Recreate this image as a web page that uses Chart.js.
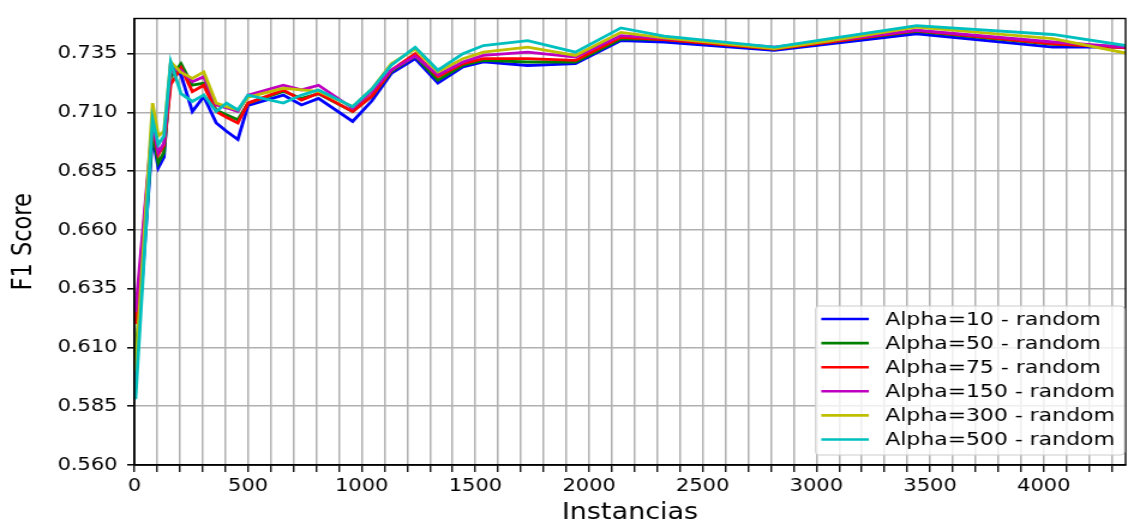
<!DOCTYPE html>
<html>
<head>
<meta charset="utf-8">
<script src="https://cdn.jsdelivr.net/npm/chart.js@4"></script>
<style>
  html, body { margin: 0; padding: 0; background: #fff; overflow: hidden; }
  /* the figure is drawn narrow and widened, like the saved plot image */
  #wrap { width: 940px; height: 524px; transform: scaleX(1.2); transform-origin: 0 0; }
</style>
</head>
<body>
<div id="wrap"><canvas id="chart"></canvas></div>
<script>
const instancias = [5, 80, 105, 130, 160, 205, 255, 305, 360, 405, 455, 500, 655, 735, 810, 960, 1045, 1130, 1235, 1335, 1445, 1535, 1730, 1940, 2140, 2330, 2815, 3060, 3440, 4040, 4360];

const alpha10 = [0.600, 0.700, 0.6865, 0.691, 0.7308, 0.726, 0.7104, 0.7168, 0.7055, 0.702, 0.6985, 0.713, 0.7174, 0.7132, 0.716, 0.7062, 0.715, 0.7266, 0.7329, 0.7225, 0.7294, 0.7315, 0.7300, 0.7308, 0.7406, 0.7400, 0.7364, 0.7392, 0.7435, 0.7378, 0.7378];
const alpha50 = [0.605, 0.702, 0.6886, 0.693, 0.725, 0.7308, 0.7216, 0.7225, 0.711, 0.709, 0.7069, 0.714, 0.719, 0.716, 0.718, 0.7104, 0.717, 0.7275, 0.734, 0.7238, 0.7301, 0.7322, 0.7315, 0.7315, 0.7413, 0.741, 0.737, 0.740, 0.7445, 0.739, 0.738];
const alpha75 = [0.620, 0.705, 0.6921, 0.696, 0.722, 0.729, 0.7189, 0.7216, 0.7104, 0.708, 0.7055, 0.714, 0.7195, 0.7153, 0.7182, 0.7104, 0.717, 0.728, 0.735, 0.7252, 0.7308, 0.7329, 0.7329, 0.7322, 0.742, 0.741, 0.737, 0.740, 0.7448, 0.7392, 0.7375];
const alpha150 = [0.625, 0.706, 0.693, 0.697, 0.728, 0.728, 0.7231, 0.7252, 0.7132, 0.712, 0.7104, 0.7174, 0.7216, 0.7196, 0.7216, 0.7118, 0.719, 0.728, 0.734, 0.726, 0.7315, 0.7343, 0.7357, 0.7336, 0.7427, 0.7415, 0.7378, 0.7405, 0.745, 0.740, 0.7378];
const alpha300 = [0.600, 0.714, 0.700, 0.702, 0.7315, 0.727, 0.7245, 0.7273, 0.714, 0.7125, 0.7111, 0.7165, 0.7203, 0.7196, 0.719, 0.7125, 0.720, 0.7308, 0.737, 0.7273, 0.7329, 0.7357, 0.7378, 0.7343, 0.7441, 0.7418, 0.7372, 0.7405, 0.7463, 0.7414, 0.7353];
const alpha500 = [0.588, 0.707, 0.6964, 0.700, 0.7315, 0.718, 0.7147, 0.7175, 0.7104, 0.714, 0.7111, 0.7174, 0.714, 0.7174, 0.7196, 0.7125, 0.720, 0.7301, 0.7378, 0.728, 0.735, 0.7385, 0.7406, 0.7357, 0.746, 0.7425, 0.7378, 0.7414, 0.747, 0.7432, 0.7385];

const seriesLabels = ["Alpha=10 - random", "Alpha=50 - random", "Alpha=75 - random", "Alpha=150 - random", "Alpha=300 - random", "Alpha=500 - random"];
const seriesValues = [alpha10, alpha50, alpha75, alpha150, alpha300, alpha500];
const seriesColors = ["#0000ff", "#008000", "#ff0000", "#bf00bf", "#bfbf00", "#00bfbf"];

const yTicks = [0.560, 0.585, 0.610, 0.635, 0.660, 0.685, 0.710, 0.735];

Chart.defaults.font.family = "'DejaVu Sans', sans-serif";
Chart.defaults.color = "#000";

// black box round the plot area
const frame = {
  id: "frame",
  afterDatasetsDraw(chart) {
    const { ctx, chartArea: a } = chart;
    ctx.save();
    ctx.strokeStyle = "#000";
    ctx.lineWidth = 1.4;
    ctx.strokeRect(a.left, a.top, a.right - a.left, a.bottom - a.top);
    ctx.restore();
  },
};

// legend in the lower right corner of the plot
const cornerLegend = {
  id: "cornerLegend",
  afterDraw(chart) {
    const { ctx, chartArea: a } = chart;
    const sets = chart.data.datasets;
    ctx.save();
    ctx.font = "18.3px 'DejaVu Sans'";
    const textW = Math.max(...sets.map((d) => ctx.measureText(d.label).width));
    const w = 58 + textW + 8;
    const h = 149;
    const x = a.right - 1 - w;
    const y = a.bottom - 10 - h;
    ctx.beginPath();
    ctx.roundRect(x, y, w, h, 3);
    ctx.fillStyle = "rgba(255,255,255,0.8)";
    ctx.fill();
    ctx.strokeStyle = "#cccccc";
    ctx.lineWidth = 1;
    ctx.stroke();
    ctx.textBaseline = "middle";
    sets.forEach((d, i) => {
      const cy = y + 13 + i * 24.1;
      ctx.strokeStyle = d.borderColor;
      ctx.lineWidth = 2.6;
      ctx.beginPath();
      ctx.moveTo(x + 4.7, cy);
      ctx.lineTo(x + 44.4, cy);
      ctx.stroke();
      ctx.fillStyle = "#000";
      ctx.fillText(d.label, x + 58, cy + 1);
    });
    ctx.restore();
  },
};

const datasets = seriesValues.map((vals, i) => ({
  label: seriesLabels[i],
  data: vals.map((v, j) => ({ x: instancias[j], y: v })),
  borderColor: seriesColors[i],
  borderWidth: 2.8,
  pointRadius: 0,
  tension: 0,
  fill: false,
  order: seriesValues.length - i,
}));

new Chart(document.getElementById("chart"), {
  type: "line",
  data: { datasets },
  options: {
    responsive: true,
    maintainAspectRatio: false,
    animation: false,
    events: [],
    layout: { padding: { left: 0, right: 2, top: 15, bottom: 0 } },
    plugins: { legend: { display: false }, tooltip: { enabled: false } },
    scales: {
      x: {
        type: "linear",
        min: 0,
        max: 4360,
        ticks: {
          stepSize: 100,
          includeBounds: false,
          autoSkip: false,
          maxRotation: 0,
          padding: 4,
          font: { size: 17.5 },
          callback: (v) => (v % 500 === 0 ? String(v) : ""),
        },
        grid: { color: "#b0b0b0", lineWidth: 1.5, tickColor: "#000", tickLength: 7, tickWidth: 1.3 },
        border: { color: "#000", width: 1.4 },
        title: { display: true, text: "Instancias", font: { size: 22.5, lineHeight: 1 }, padding: { top: 0, bottom: 0 } },
        afterFit(s) { s.height = 59; },
      },
      y: {
        min: 0.56,
        max: 0.75,
        afterBuildTicks(s) { s.ticks = yTicks.map((v) => ({ value: v })); },
        ticks: { padding: 8, font: { size: 17.5 }, callback: (v) => Number(v).toFixed(3) },
        grid: { color: "#b0b0b0", lineWidth: 1.6, tickColor: "#000", tickLength: 6, tickWidth: 1.5 },
        border: { color: "#000", width: 1.4 },
        title: { display: true, text: "F1 Score", font: { size: 22.5, lineHeight: 1 }, padding: { top: 9, bottom: 0 } },
        afterFit(s) { s.width = 112; },
      },
    },
  },
  plugins: [frame, cornerLegend],
});
</script>
</body>
</html>
